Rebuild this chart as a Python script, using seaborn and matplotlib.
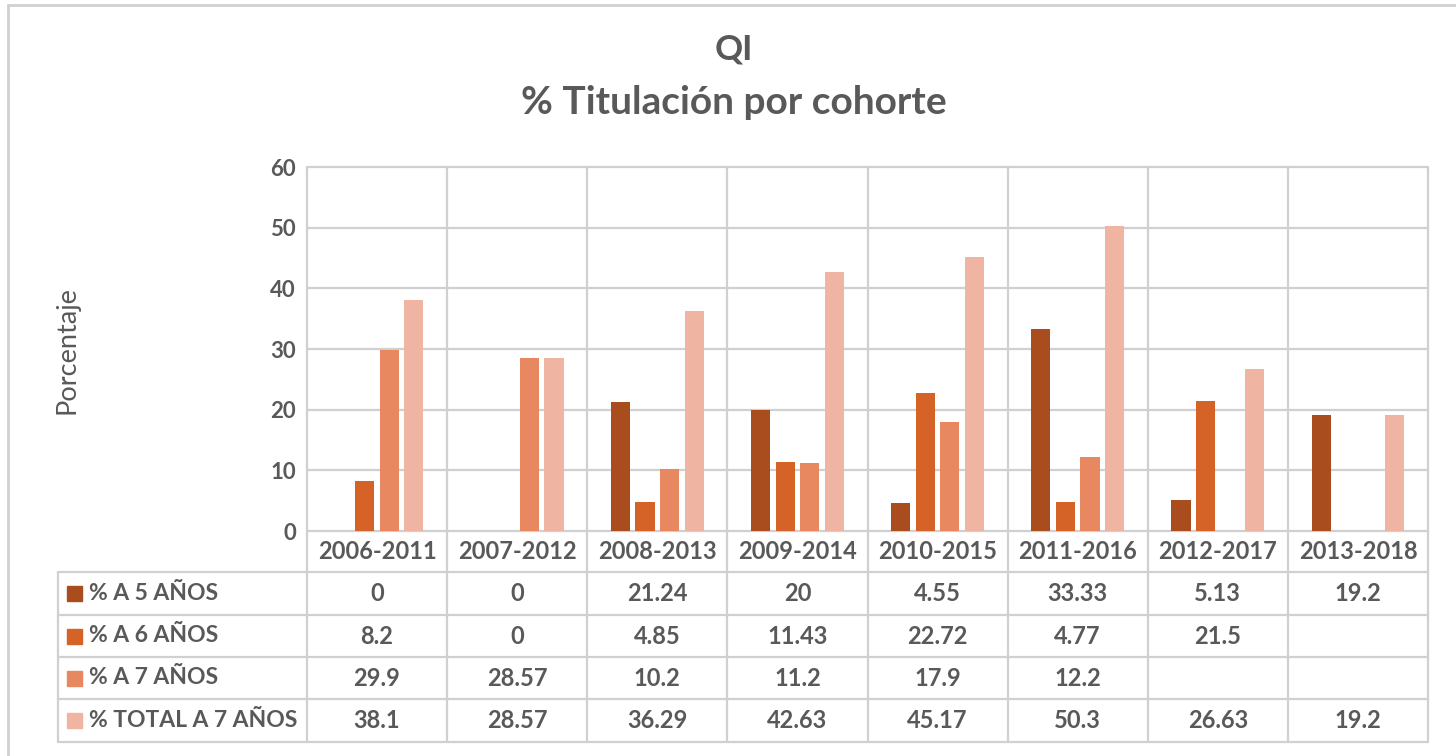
import matplotlib
matplotlib.use('Agg')
import matplotlib.pyplot as plt
import matplotlib.transforms as mtransforms
from matplotlib.lines import Line2D
from matplotlib.patches import Rectangle
import seaborn as sns
import pandas as pd
import numpy as np

# datos
cohortes = ['2006-2011', '2007-2012', '2008-2013', '2009-2014',
            '2010-2015', '2011-2016', '2012-2017', '2013-2018']
series = ['% A 5 AÑOS', '% A 6 AÑOS', '% A 7 AÑOS', '% TOTAL A 7 AÑOS']
a5 = [0, 0, 21.24, 20, 4.55, 33.33, 5.13, 19.2]
a6 = [8.2, 0, 4.85, 11.43, 22.72, 4.77, 21.5, None]
a7 = [29.9, 28.57, 10.2, 11.2, 17.9, 12.2, None, None]
total = [38.1, 28.57, 36.29, 42.63, 45.17, 50.3, 26.63, 19.2]
colores = ['#A94D1E', '#D56227', '#E88860', '#F0B4A2']

valores = [a5, a6, a7, total]
filas = []
for s, vals in zip(series, valores):
    for c, v in zip(cohortes, vals):
        filas.append({'cohorte': c, 'serie': s, 'valor': v})
df = pd.DataFrame(filas)

sns.set_style('white')
plt.rcParams['font.family'] = ['Lato', 'DejaVu Sans']

gris = '#D0D0D0'
texto = '#595959'
W, H = 1456, 756
# area de trazado en pixeles
x0, x1, y0, y1 = 307, 1428, 531, 167

fig = plt.figure(figsize=(W / 100, H / 100), dpi=100)
ax = fig.add_axes([x0 / W, 1 - y0 / H, (x1 - x0) / W, (y0 - y1) / H])

sns.barplot(data=df.dropna(), x='cohorte', y='valor', hue='serie',
            order=cohortes, hue_order=series,
            palette=dict(zip(series, colores)), saturation=1,
            width=0.7, gap=0.22, errorbar=None, linewidth=0,
            legend=False, ax=ax)

ax.set_xlim(-0.5, len(cohortes) - 0.5)
ax.set_ylim(0, 60)
ax.set_yticks(range(0, 61, 10))
ax.set_xticks([])
ax.set_xlabel('')
ax.set_ylabel('')
ax.grid(axis='y', color=gris, lw=1.6)
for gl in ax.get_ygridlines():
    gl.set_clip_on(False)
ax.set_axisbelow(True)
for sp in ax.spines.values():
    sp.set_visible(False)
ax.tick_params(axis='y', length=0, pad=8, labelsize=16, labelcolor=texto)
for t in ax.get_yticklabels():
    t.set_fontweight('bold')


def px_x(px):
    return (px - x0) / (x1 - x0)


def px_y(py):
    return (y0 - py) / (y0 - y1)


trans = mtransforms.blended_transform_factory(ax.transData, ax.transAxes)

# tabla de datos
bordes = [572, 615, 657, 699, 742]
izq = 58
y_fondo = px_y(bordes[-1])
for b in np.arange(-0.5, len(cohortes), 1):
    ax.plot([b, b], [1, y_fondo], transform=trans, color=gris, lw=1.6,
            clip_on=False, zorder=0)
for py in bordes:
    ax.plot([px_x(izq), 1], [px_y(py)] * 2, transform=ax.transAxes,
            color=gris, lw=1.6, clip_on=False)
ax.plot([px_x(izq)] * 2, [px_y(bordes[0]), y_fondo], transform=ax.transAxes,
        color=gris, lw=1.6, clip_on=False)

for i, c in enumerate(cohortes):
    ax.text(i, px_y((y0 + bordes[0]) / 2), c, transform=trans, ha='center',
            va='center', fontsize=17, fontweight='bold', color=texto)

for r, (s, vals, col) in enumerate(zip(series, valores, colores)):
    yc = px_y((bordes[r] + bordes[r + 1]) / 2)
    ax.add_patch(Rectangle((px_x(67), yc - 7.5 / (y0 - y1)), 15 / (x1 - x0),
                           15 / (y0 - y1), transform=ax.transAxes,
                           color=col, clip_on=False))
    ax.text(px_x(89), yc, s, transform=ax.transAxes, ha='left', va='center',
            fontsize=16.5, fontweight='bold', color=texto)
    for i, v in enumerate(vals):
        if v is None:
            continue
        ax.text(i, yc, f'{v:g}', transform=trans, ha='center', va='center',
                fontsize=17, fontweight='bold', color=texto)

# titulos y eje
fig.text(734 / W, 1 - 50 / H, 'QI', ha='center', va='center', fontsize=25,
         fontweight='bold', color=texto)
fig.text(734 / W, 1 - 103 / H, '% Titulación por cohorte', ha='center',
         va='center', fontsize=28, fontweight='bold', color=texto)
fig.text(67 / W, 1 - 350 / H, 'Porcentaje', rotation=90, ha='center',
         va='center', fontsize=19.5, color=texto)

# marco del grafico
fig.add_artist(Line2D([8 / W, 1], [1 - 5 / H] * 2, transform=fig.transFigure,
                      color=gris, lw=2))
fig.add_artist(Line2D([8 / W] * 2, [0, 1 - 5 / H], transform=fig.transFigure,
                      color=gris, lw=2))

fig.savefig('out.png', dpi=100)
